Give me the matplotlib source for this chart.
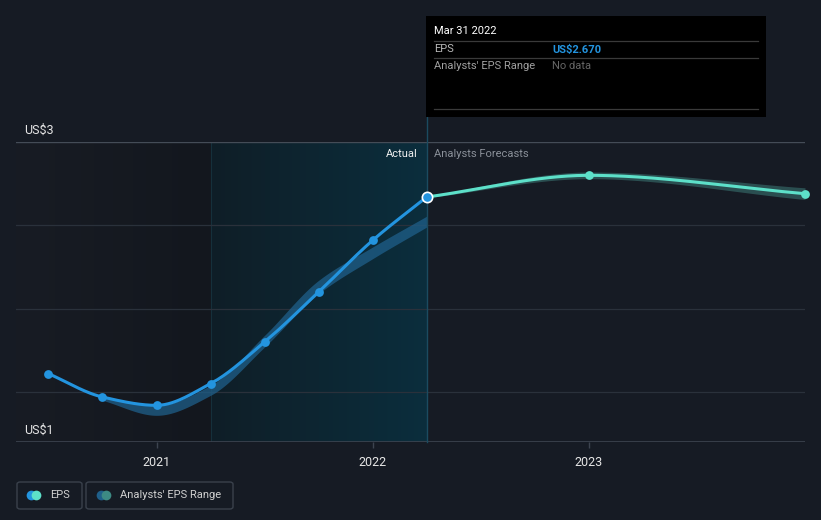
import numpy as np
import matplotlib
matplotlib.use('Agg')
import matplotlib.pyplot as plt
from matplotlib.colors import LinearSegmentedColormap
from matplotlib.patches import FancyBboxPatch, Rectangle
from matplotlib.lines import Line2D

plt.rcParams['font.family'] = ['Roboto', 'DejaVu Sans']

# ── data (fractional years, US$) ─────────────────────────
eps_dates = [2020.5, 2020.75, 2021.0, 2021.25, 2021.5, 2021.75, 2022.0, 2022.25]
eps_vals = [1.61, 1.47, 1.42, 1.55, 1.80, 2.10, 2.41, 2.67]

fc_dates = [2022.25, 2023.0, 2024.0]
fc_vals = [2.67, 2.80, 2.69]

past_rng_dates = [2020.75, 2021.0, 2021.25, 2021.5, 2021.75, 2022.0, 2022.25]
past_rng_low = [1.45, 1.36, 1.48, 1.77, 2.09, 2.30, 2.49]
past_rng_high = [1.47, 1.42, 1.54, 1.84, 2.17, 2.37, 2.555]

fc_rng_dates = [2022.25, 2023.0, 2024.0]
fc_rng_low = [2.665, 2.78, 2.655]
fc_rng_high = [2.675, 2.82, 2.725]

year_ticks = [2021, 2022, 2023]

# ── colours ──────────────────────────────────────────────
BG = '#161b24'
BLUE = '#2394df'
TEAL = '#5de0c9'
PAST_BAND = '#1f5f8a'
FC_BAND = '#2d5456'


def pchip(x, y, n=200):
    # monotone cubic (Fritsch-Carlson), only to draw smooth curves
    x = np.asarray(x, float); y = np.asarray(y, float)
    h = np.diff(x); d = np.diff(y) / h
    m = np.zeros_like(y)
    m[0], m[-1] = d[0], d[-1]
    for k in range(1, len(y) - 1):
        if d[k - 1] * d[k] > 0:
            w1 = 2 * h[k] + h[k - 1]; w2 = h[k] + 2 * h[k - 1]
            m[k] = (w1 + w2) / (w1 / d[k - 1] + w2 / d[k])
    xs = np.linspace(x[0], x[-1], n)
    idx = np.clip(np.searchsorted(x, xs) - 1, 0, len(x) - 2)
    t = (xs - x[idx]) / h[idx]
    h00 = 2 * t**3 - 3 * t**2 + 1; h10 = t**3 - 2 * t**2 + t
    h01 = -2 * t**3 + 3 * t**2; h11 = t**3 - t**2
    ys = h00 * y[idx] + h10 * h[idx] * m[idx] + h01 * y[idx + 1] + h11 * h[idx] * m[idx + 1]
    return xs, ys


W, H = 821, 520
fig = plt.figure(figsize=(W / 100, H / 100), dpi=100)
fig.patch.set_facecolor(BG)

def fx(px): return px / W
def fy(py): return 1 - py / H

ax = fig.add_axes([fx(16), fy(442), (805 - 16) / W, 300 / H])
ax.set_facecolor(BG)
x0, x1 = 2020.35, 2024.0
y0, y1 = 1.2, 3.0
ax.set_xlim(x0, x1)
ax.set_ylim(y0, y1)
for s in ax.spines.values():
    s.set_visible(False)

# background shading: past (dark) and last year (teal)
dark = LinearSegmentedColormap.from_list('d', ['#181c24', '#13171e'])
teal = LinearSegmentedColormap.from_list('t', ['#0f1e27', '#0b2e3d'])
grad = np.linspace(0, 1, 256).reshape(1, -1)
ax.imshow(grad, cmap=dark, extent=[x0, 2021.25, y0, y1], aspect='auto', zorder=0)
ax.imshow(grad, cmap=teal, extent=[2021.25, 2022.25, y0, y1], aspect='auto', zorder=0)
ax.axvline(2021.25, color='#15303b', lw=0.8, zorder=1)

# grid lines
for g in [2.5, 2.0, 1.5]:
    ax.axhline(g, color='#2a313b', lw=0.9, zorder=1)
ax.axhline(3.0, color='#444c57', lw=1.0, zorder=1)
ax.axhline(y0, color='#3d4450', lw=1.2, zorder=1)

# analysts' range bands
bx, bl = pchip(past_rng_dates, past_rng_low)
_, bh = pchip(past_rng_dates, past_rng_high)
ax.fill_between(bx, bl, bh, color=PAST_BAND, alpha=0.75, lw=0, zorder=2)
fxs, fl = pchip(fc_rng_dates, fc_rng_low)
_, fh = pchip(fc_rng_dates, fc_rng_high)
ax.fill_between(fxs, fl, fh, color=FC_BAND, alpha=0.9, lw=0, zorder=2)

# EPS lines
ex, ev = pchip(eps_dates, eps_vals)
ax.plot(ex, ev, color=BLUE, lw=2.2, zorder=3, solid_capstyle='round')
ax.scatter(eps_dates[:-1], eps_vals[:-1], s=40, color=BLUE, zorder=4, lw=0)
cx, cv = pchip(fc_dates, fc_vals)
ax.plot(cx, cv, color=TEAL, lw=2.2, zorder=3, solid_capstyle='round')
ax.scatter(fc_dates[1:], fc_vals[1:], s=40, color=TEAL, zorder=4, lw=0, clip_on=False)
ax.scatter([eps_dates[-1]], [eps_vals[-1]], s=55, color=BLUE, edgecolor='white',
           lw=1.2, zorder=5)

# hover line
ax.plot([2022.25, 2022.25], [y0, y1 + 25 / 166.7], color='#1b4b60', lw=1.0,
        zorder=2, clip_on=False)

# x ticks
ax.set_xticks(year_ticks)
ax.set_xticklabels([str(y) for y in year_ticks])
ax.tick_params(axis='x', colors='#3d4450', length=4, width=1, pad=6,
               labelcolor='#e6e6e6', labelsize=9)
ax.set_yticks([])

# y labels
fig.text(fx(24), fy(130), 'US$3', color='#e6e6e6', fontsize=9, va='center')
fig.text(fx(24), fy(430), 'US$1', color='#e6e6e6', fontsize=9, va='center')

# section labels
fig.text(fx(418), fy(154), 'Actual', color='#f0f0f0', fontsize=8, va='center', ha='right')
fig.text(fx(434), fy(154), 'Analysts Forecasts', color='#8a9099', fontsize=8, va='center')

# tooltip
fig.patches.append(Rectangle((fx(426), fy(117)), 340 / W, 101 / H, transform=fig.transFigure,
                             facecolor='black', edgecolor='none', zorder=10))
for yy in [41, 58, 109]:
    fig.add_artist(Line2D([fx(434), fx(758)], [fy(yy), fy(yy)], color='#3a3a3a', lw=0.9, zorder=11))
fig.text(fx(434), fy(31), 'Mar 31 2022', color='white', fontsize=8, va='center', zorder=12)
fig.text(fx(434), fy(49.5), 'EPS', color='#b8b8b8', fontsize=8, va='center', zorder=12)
fig.text(fx(552), fy(49.5), 'US$2.670', color=BLUE, fontsize=8, va='center',
         fontweight='bold', zorder=12)
fig.text(fx(434), fy(66), "Analysts' EPS Range", color='#a0a0a0', fontsize=8, va='center', zorder=12)
fig.text(fx(552), fy(66), 'No data', color='#666666', fontsize=8, va='center', zorder=12)

# legend
def legend_box(xa, xb, c1, c2, label, tx):
    fig.patches.append(FancyBboxPatch((fx(xa), fy(509)), (xb - xa) / W, 27 / H,
                                      boxstyle='round,pad=0,rounding_size=0.004',
                                      transform=fig.transFigure, facecolor='none',
                                      edgecolor='#3a414c', lw=1.0))
    fig.add_artist(Line2D([fx(tx - 19)], [fy(495)], marker='o', ms=7, color=c1, mew=0, lw=0))
    fig.add_artist(Line2D([fx(tx - 14)], [fy(495)], marker='o', ms=7, color=c2, mew=0, lw=0))
    fig.text(fx(tx), fy(495), label, color='#d0d0d0', fontsize=8, va='center')

legend_box(17, 82, BLUE, TEAL, 'EPS', 50)
legend_box(86, 233, '#1f5f8a', '#3d8a84', "Analysts' EPS Range", 120)

fig.savefig('out.png', dpi=100, facecolor=BG)
